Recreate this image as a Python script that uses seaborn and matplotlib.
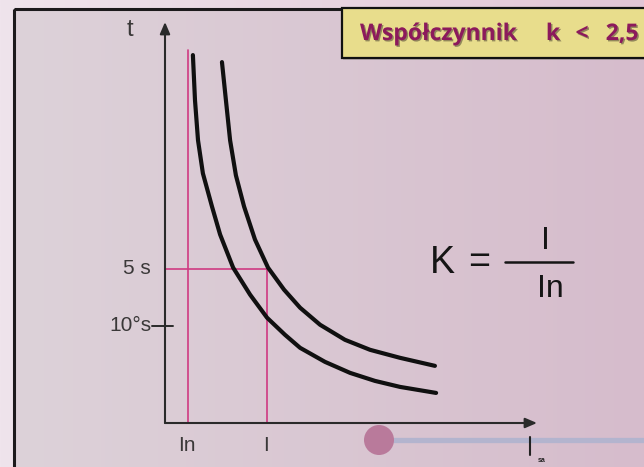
import numpy as np
import pandas as pd
import matplotlib
matplotlib.use("Agg")
import matplotlib.pyplot as plt
import matplotlib.patheffects as pe
from matplotlib.patches import Rectangle, Circle
import seaborn as sns

# Current as a multiple of the rated current In, tripping time in arbitrary units
lower_current = [1.20, 1.29, 1.42, 1.63, 2.02, 2.37, 2.93, 3.66, 4.39, 5.16, 5.81,
                 6.88, 7.96, 9.03, 10.11, 11.66]
lower_time = [36.7, 32.2, 28.2, 24.9, 21.6, 18.8, 15.5, 12.8, 10.5, 8.8, 7.5,
              6.1, 5.0, 4.2, 3.6, 3.0]
upper_current = [2.45, 2.62, 2.80, 3.05, 3.40, 3.87, 4.43, 5.12, 5.81, 6.67, 7.74,
                 8.82, 10.11, 11.61]
upper_time = [36.0, 32.2, 28.2, 24.7, 21.6, 18.3, 15.5, 13.3, 11.5, 9.8, 8.3,
              7.3, 6.5, 5.7]

rated_current = 1.0      # In
fault_current = 4.39     # I
time_5s = 15.4
time_10s = 9.7
time_labels = ["5 s", "10°s"]
current_labels = ["In", "I"]
title_words = ["Współczynnik", "k", "<", "2,5"]

sns.set_style("white")
plt.rcParams["font.family"] = ["Liberation Sans", "DejaVu Sans"]

W, H = 644, 467
fig = plt.figure(figsize=(W / 100, H / 100), dpi=100)

# ---- slide background -------------------------------------------------
bg = fig.add_axes([0, 0, 1, 1])
bg.set_xlim(0, W)
bg.set_ylim(H, 0)
bg.axis("off")

def hgrad(c0, c1, n=256):
    c0 = np.array(c0) / 255.0
    c1 = np.array(c1) / 255.0
    t = np.linspace(0, 1, n)[None, :, None]
    return c0 + (c1 - c0) * t

bg.imshow(hgrad((239, 228, 236), (226, 198, 214)), extent=(0, W, H, 0),
          aspect="auto", zorder=0)
bg.imshow(hgrad((221, 210, 217), (214, 188, 204)), extent=(14, W, H, 9),
          aspect="auto", zorder=1)
bg.add_patch(Rectangle((14, 9), 700, 500, fill=False, ec="#1c1a1c", lw=2.2, zorder=2))

# title box
bg.add_patch(Rectangle((343, 10), 320, 50, fc="#9a9090", ec="none", alpha=0.5, zorder=3))
bg.add_patch(Rectangle((342, 8), 320, 50, fc="#e8dd8c", ec="#111111", lw=1.6, zorder=4))
shadow = [pe.SimplePatchShadow(offset=(1.0, -1.0), shadow_rgbFace="#2a2020", alpha=0.45), pe.Normal()]
title_x = [360, 553, 582, 622]
title_ha = ["left", "center", "center", "center"]
for word, x, ha in zip(title_words, title_x, title_ha):
    bg.text(x, 34, word, ha=ha, va="center", fontsize=16.5, fontweight="bold",
            color="#8c1a5c", family=["Open Sans", "DejaVu Sans"],
            path_effects=shadow, zorder=5)

# formula K = I / In
bg.text(442, 263, "K", ha="center", va="center", fontsize=27, color="#151515", zorder=5)
bg.text(479, 263, "=", ha="center", va="center", fontsize=27, color="#151515", zorder=5)
bg.plot([505, 573], [262, 262], color="#151515", lw=1.8, zorder=5)
bg.text(545, 241, "I", ha="center", va="center", fontsize=23, color="#151515", zorder=5)
bg.text(550, 289, "In", ha="center", va="center", fontsize=23, color="#151515", zorder=5)

# slide progress bar
bg.plot([379, W], [440, 440], color="#b3b4ce", lw=3.8, solid_capstyle="butt", zorder=5)
bg.add_patch(Circle((379, 440), 15, fc="#b97a9b", ec="none", zorder=6))
bg.plot([530, 530], [437, 455], color="#222222", lw=1.5, zorder=6)
bg.text(538, 460, "sa", ha="left", va="center", fontsize=5, fontweight="bold",
        color="#222222", zorder=6)

# ---- time-current chart ----------------------------------------------
x0, y0, x1, y1 = 165, 423, 537, 22
ax = fig.add_axes([x0 / W, (H - y0) / H, (x1 - x0) / W, (y0 - y1) / H])
ax.patch.set_alpha(0)
ax.set_xlim(0, 16)
ax.set_ylim(0, 40)
for s in ax.spines.values():
    s.set_visible(False)
ax.set_xticks([])
ax.set_yticks([])

curves = pd.concat([
    pd.DataFrame({"current": lower_current, "time": lower_time, "curve": "lower"}),
    pd.DataFrame({"current": upper_current, "time": upper_time, "curve": "upper"}),
])
sns.lineplot(data=curves, x="current", y="time", hue="curve", units="curve",
             estimator=None, sort=False, palette=["#101010", "#101010"],
             linewidth=3.0, legend=False, ax=ax, zorder=4,
             solid_joinstyle="round", solid_capstyle="round")

pink = "#cf3a82"
ax.plot([rated_current, rated_current], [0, 37.2], color=pink, lw=1.2, zorder=3)
ax.plot([fault_current, fault_current], [0, time_5s], color=pink, lw=1.2, zorder=3)
ax.plot([0, fault_current], [time_5s, time_5s], color=pink, lw=1.2, zorder=3)

arrow = dict(arrowstyle="-|>,head_length=0.7,head_width=0.3", color="#2a2a2a", lw=1.5,
             shrinkA=0, shrinkB=0)
ax.annotate("", xy=(0, 40), xytext=(0, 0), arrowprops=arrow, annotation_clip=False)
ax.annotate("", xy=(16, 0), xytext=(0, 0), arrowprops=arrow, annotation_clip=False)
ax.plot([-0.55, 0.35], [time_10s, time_10s], color="#2a2a2a", lw=1.4, clip_on=False)

grey = "#3a3838"
ax.text(-0.6, time_5s, time_labels[0], ha="right", va="center", fontsize=15, color=grey)
ax.text(-0.6, time_10s, time_labels[1], ha="right", va="center", fontsize=15, color=grey)
ax.text(rated_current - 0.05, -2.2, current_labels[0], ha="center", va="center",
        fontsize=15, color=grey)
ax.text(fault_current - 0.05, -2.2, current_labels[1], ha="center", va="center",
        fontsize=15, color=grey)
ax.text(-1.5, 39.2, "t", ha="center", va="center", fontsize=17, color=grey)

fig.savefig("out.png", dpi=100)
